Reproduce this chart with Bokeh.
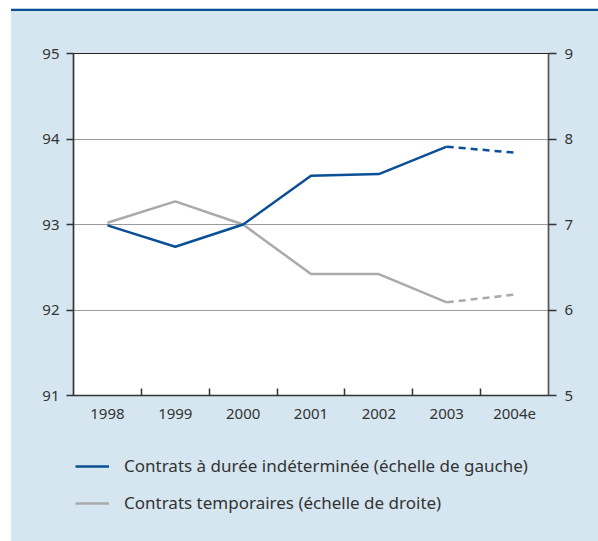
from bokeh.plotting import figure
from bokeh.models import (Range1d, LinearAxis, FixedTicker, Legend, LegendItem, Div)
from bokeh.layouts import column
from bokeh.embed import file_html
from bokeh.resources import INLINE

years = ["1998", "1999", "2000", "2001", "2002", "2003", "2004e"]
cdi = [92.99, 92.74, 93.00, 93.57, 93.59, 93.91, 93.84]     # left scale
temp = [7.02, 7.27, 7.00, 6.42, 6.42, 6.09, 6.18]           # right scale
left_ticks = [91, 92, 93, 94, 95]
right_ticks = [5, 6, 7, 8, 9]
series_labels = ["Contrats à durée indéterminée (échelle de gauche)",
                 "Contrats temporaires (échelle de droite)"]
n_actual = 6  # 1998-2003 observed, 2004e estimated

BLUE = "#0b4f97"
GREY = "#aaaaaa"
BG = "#d5e6f0"
TXT = "#333333"
FONT = "Noto Sans"

xs = [i + 0.5 for i in range(len(years))]

p = figure(width=587, height=429, output_backend="svg", toolbar_location=None,
           x_range=Range1d(0, len(years)), y_range=Range1d(left_ticks[0], left_ticks[-1]),
           min_border_left=62, min_border_right=50, min_border_top=42, min_border_bottom=45,
           background_fill_color="white", border_fill_color=BG, margin=0)
p.extra_y_ranges = {"r": Range1d(right_ticks[0], right_ticks[-1])}

p.outline_line_color = "#222222"
p.outline_line_width = 1.2
p.xgrid.visible = False
p.ygrid.ticker = FixedTicker(ticks=left_ticks)
p.ygrid.grid_line_color = "#9a9a9a"
p.ygrid.grid_line_width = 1

# x axis: labels centred in categories, ticks at the boundaries
xa = p.xaxis[0]
xa.ticker = FixedTicker(ticks=xs, minor_ticks=list(range(1, len(years))))
xa.major_label_overrides = {x: y for x, y in zip(xs, years)}
xa.major_tick_in = 0
xa.major_tick_out = 0
xa.minor_tick_in = 7
xa.minor_tick_out = 0
xa.minor_tick_line_color = "#333333"
xa.minor_tick_line_width = 1.5
xa.axis_line_color = "#333333"
xa.axis_line_width = 1.5
xa.major_label_standoff = 13

ya = p.yaxis[0]
ya.ticker = FixedTicker(ticks=left_ticks)
ya.major_tick_in = 0
ya.major_tick_out = 7
ya.minor_tick_line_color = None
ya.axis_line_color = "#333333"
ya.axis_line_width = 1.5
ya.major_tick_line_color = "#333333"
ya.major_tick_line_width = 1.5
ya.major_label_standoff = 7

ra = LinearAxis(y_range_name="r", ticker=FixedTicker(ticks=right_ticks))
ra.major_tick_in = 0
ra.major_tick_out = 8
ra.minor_tick_line_color = None
ra.axis_line_color = "#555555"
ra.axis_line_width = 1.5
ra.major_tick_line_color = "#333333"
ra.major_tick_line_width = 1.5
ra.major_label_standoff = 8
p.add_layout(ra, "right")

for ax in (xa, ya, ra):
    ax.major_label_text_font = FONT
    ax.major_label_text_font_size = "15px"
    ax.major_label_text_color = TXT

p.line(xs[:n_actual], temp[:n_actual], line_color=GREY, line_width=2.5, y_range_name="r")
p.line(xs[n_actual - 1:], temp[n_actual - 1:], line_color=GREY, line_width=2.5,
       line_dash="7 5", y_range_name="r")
p.line(xs[:n_actual], cdi[:n_actual], line_color=BLUE, line_width=2.5)
p.line(xs[n_actual - 1:], cdi[n_actual - 1:], line_color=BLUE, line_width=2.5, line_dash="7 5")

# legend panel (separate figure so that the legend is not clipped)
lg = figure(width=587, height=101, output_backend="svg", toolbar_location=None,
            x_axis_type=None, y_axis_type=None,
            x_range=Range1d(0, 1), y_range=Range1d(0, 1),
            min_border_left=62, min_border_right=50,
            min_border_top=0, min_border_bottom=0,
            background_fill_color=None, border_fill_color=None, margin=0)
lg.outline_line_color = None
lg.grid.visible = False
nan = float("nan")
r1 = lg.line(x=[nan], y=[nan], line_color=BLUE, line_width=2.5)
r2 = lg.line(x=[nan], y=[nan], line_color=GREY, line_width=2.5)

legend = Legend(items=[LegendItem(label=series_labels[0], renderers=[r1]),
                       LegendItem(label=series_labels[1], renderers=[r2])],
                location=(2, 27))
legend.background_fill_alpha = 0
legend.border_line_color = None
legend.padding = 0
legend.margin = 0
legend.glyph_width = 34
legend.glyph_height = 20
legend.label_height = 20
legend.spacing = 14
legend.label_standoff = 15
legend.label_text_font = FONT
legend.label_text_font_size = "17px"
legend.label_text_color = TXT
lg.add_layout(legend, "center")

top_line = Div(width=587, height=3, margin=0,
               styles={"background": "linear-gradient(#b9cfe4 0px, #b9cfe4 1px, #0b4f97 1px, #0b4f97 3px)"})

layout = column(top_line, p, lg, spacing=0, width=587, margin=(8, 0, 0, 11),
                styles={"background-color": BG})
open("out.html", "w").write(file_html(layout, INLINE))
